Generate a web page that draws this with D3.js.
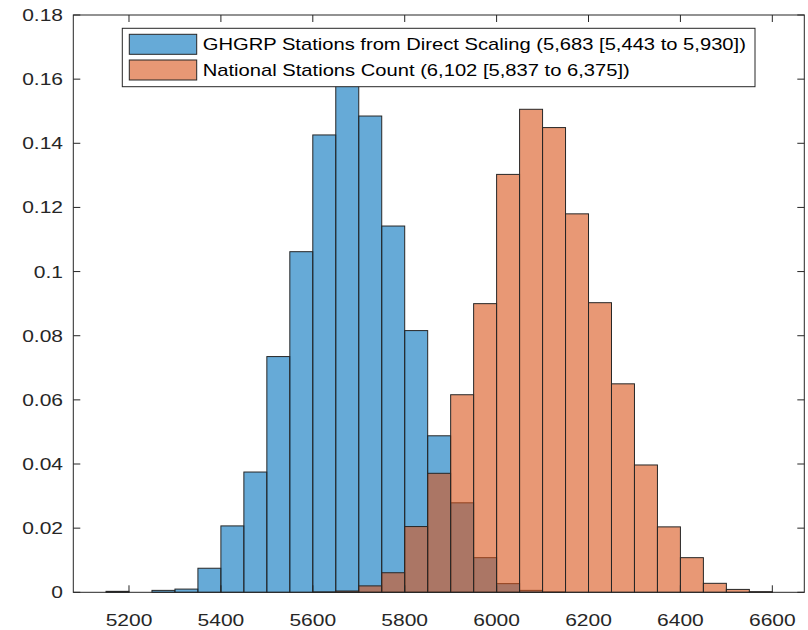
<!DOCTYPE html>
<html><head><meta charset="utf-8">
<script src="https://cdn.jsdelivr.net/npm/d3@7"></script>
<style>body{margin:0;background:#fff}svg{display:block}</style>
</head><body><svg id="c" width="808" height="630"></svg>
<script>
// ---- data ----
const binEdges = [5150,5200,5250,5300,5350,5400,5450,5500,5550,5600,5650,5700,5750,5800,5850,5900,5950,6000,6050,6100,6150,6200,6250,6300,6350,6400,6450,6500,6550,6600];
const ghgrpValues = [0.0003,0,0.0006,0.001,0.0075,0.0207,0.0375,0.0735,0.1062,0.1426,0.172,0.1485,0.1142,0.0816,0.0488,0.0279,0.0108,0.0027,0.0006,0.0001,null,null,null,null,null,null,null,null,null];
const nationalValues = [null,null,null,null,null,null,null,null,null,0.0001,0.0004,0.002,0.0061,0.0205,0.0371,0.0616,0.09,0.1303,0.1506,0.1449,0.118,0.0903,0.065,0.0397,0.0204,0.0108,0.0028,0.0009,0.0002];
const xTickValues = [5200,5400,5600,5800,6000,6200,6400,6600];
const yTickValues = [0,0.02,0.04,0.06,0.08,0.1,0.12,0.14,0.16,0.18];
const yTickLabels = ["0","0.02","0.04","0.06","0.08","0.1","0.12","0.14","0.16","0.18"];
const seriesNames = ["GHGRP Stations from Direct Scaling (5,683 [5,443 to 5,930])","National Stations Count (6,102 [5,837 to 6,375])"];
const seriesColors = ["#0072BD","#D95319"];

// ---- layout ----
const L = 73.3, R = 804.3, T = 15, B = 592.3;
const sx = 1.25; // horizontal text stretch seen in the reference
const svg = d3.select("#c");
const x = d3.scaleLinear().domain([5078.8, 6669.6]).range([L, R]);
const y = d3.scaleLinear().domain([0, 0.18]).range([B, T]);
const axisColor = "#262626";

function drawSeries(vals, color) {
  const data = vals.map((v,i)=>({v, x0: binEdges[i], x1: binEdges[i+1]})).filter(d=>d.v!==null);
  svg.append("g").selectAll("rect").data(data).join("rect")
    .attr("x", d=>x(d.x0)).attr("width", d=>x(d.x1)-x(d.x0))
    .attr("y", d=>y(d.v)).attr("height", d=>y(0)-y(d.v))
    .attr("fill", color).attr("fill-opacity", 0.6)
    .attr("stroke", axisColor).attr("stroke-width", 1);
}
drawSeries(ghgrpValues, seriesColors[0]);
drawSeries(nationalValues, seriesColors[1]);

// axes box
const ax = svg.append("g");
ax.append("rect").attr("x", L).attr("y", T).attr("width", R-L).attr("height", B-T)
  .attr("fill","none").attr("stroke", axisColor).attr("stroke-width",1);
const tl = 7;
xTickValues.forEach(v=>{
  ax.append("line").attr("x1",x(v)).attr("x2",x(v)).attr("y1",B).attr("y2",B-tl).attr("stroke",axisColor);
  ax.append("line").attr("x1",x(v)).attr("x2",x(v)).attr("y1",T).attr("y2",T+tl).attr("stroke",axisColor);
  ax.append("text").attr("transform",`translate(${x(v)},626) scale(${sx},1)`)
    .attr("text-anchor","middle").attr("font-family","Liberation Sans, Arial, sans-serif")
    .attr("font-size","16.8px").attr("fill","#262626").text(v);
});
yTickValues.forEach((v,i)=>{
  ax.append("line").attr("x1",L).attr("x2",L+tl).attr("y1",y(v)).attr("y2",y(v)).attr("stroke",axisColor);
  ax.append("line").attr("x1",R).attr("x2",R-tl).attr("y1",y(v)).attr("y2",y(v)).attr("stroke",axisColor);
  ax.append("text").attr("transform",`translate(63,${y(v)+6}) scale(${sx},1)`)
    .attr("text-anchor","end").attr("font-family","Liberation Sans, Arial, sans-serif")
    .attr("font-size","16.8px").attr("fill","#262626").text(yTickLabels[i]);
});

// legend
const lg = svg.append("g");
lg.append("rect").attr("x",122.3).attr("y",28.3).attr("width",755-122.3).attr("height",86.7-28.3)
  .attr("fill","#fff").attr("stroke",axisColor).attr("stroke-width",1);
const rowC = [44.3, 70];
seriesNames.forEach((name,i)=>{
  lg.append("rect").attr("x",129.3).attr("y",rowC[i]-10).attr("width",67.4).attr("height",20)
    .attr("fill",seriesColors[i]).attr("fill-opacity",0.6).attr("stroke",axisColor).attr("stroke-width",1);
  lg.append("text").attr("transform",`translate(202.7,${rowC[i]+6}) scale(1.23,1)`)
    .attr("font-family","Liberation Sans, Arial, sans-serif").attr("font-size","16.4px")
    .attr("fill","#000").text(name);
});
</script></body></html>
